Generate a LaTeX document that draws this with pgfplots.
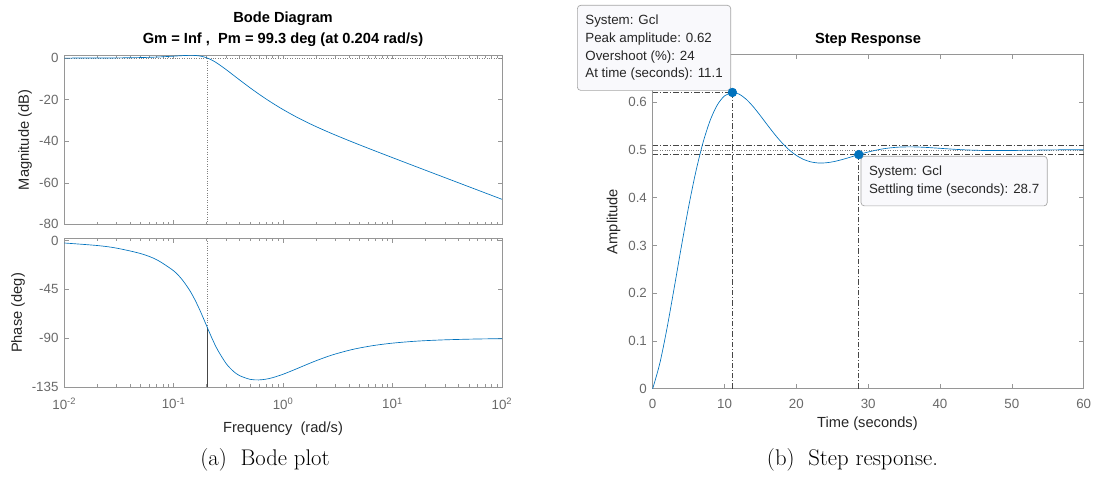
\documentclass[border=0pt]{standalone}
\usepackage{fontspec}
\usepackage{pgfplots}
\pgfplotsset{compat=1.18}
\newfontfamily\arial{Liberation Sans}
\definecolor{mblue}{RGB}{0,114,189}
\definecolor{axgray}{RGB}{150,150,150}
\definecolor{tkgray}{RGB}{105,105,105}
\definecolor{lbl}{RGB}{38,38,38}
\definecolor{dd}{RGB}{70,70,70}

\pgfplotstableread{
w mag
0.01 0.011
0.02 0.045
0.03 0.100
0.05 0.273
0.07 0.515
0.1 0.945
0.12 1.199
0.14 1.333
0.15 1.323
0.16 1.247
0.17 1.096
0.18 0.864
0.19 0.554
0.2 0.170
0.21 -0.278
0.22 -0.778
0.23 -1.319
0.25 -2.476
0.3 -5.438
0.35 -8.141
0.4 -10.495
0.5 -14.322
0.6 -17.298
0.7 -19.692
0.8 -21.672
1 -24.779
1.3 -28.118
1.6 -30.542
2 -32.967
2.5 -35.245
3 -37.024
4 -39.726
5 -41.761
7 -44.769
10 -47.914
15 -51.461
20 -53.969
30 -57.496
50 -61.937
70 -64.860
100 -67.959
}\magtable

\pgfplotstableread{
w ph
0.01 -2.30
0.02 -4.62
0.03 -7.01
0.05 -12.07
0.07 -17.75
0.1 -27.98
0.12 -36.31
0.14 -45.96
0.15 -51.21
0.16 -56.68
0.17 -62.27
0.18 -67.88
0.19 -73.38
0.2 -78.69
0.21 -83.72
0.22 -88.40
0.23 -92.71
0.25 -100.19
0.3 -113.11
0.35 -120.40
0.4 -124.51
0.5 -127.97
0.6 -128.48
0.7 -127.73
0.8 -126.41
1 -123.23
1.3 -118.61
1.6 -114.77
2 -110.80
2.5 -107.20
3 -104.60
4 -101.17
5 -99.02
7 -96.49
10 -94.57
15 -93.05
20 -92.29
30 -91.53
50 -90.92
70 -90.65
100 -90.46
}\phtable

\pgfplotstableread{
t y
0 0
1 0.05346
2 0.12706
3 0.21132
4 0.29799
5 0.38043
6 0.45373
7 0.51466
8 0.56155
9 0.59410
10 0.61304
11 0.61996
11.1 0.6202
12 0.61693
13 0.60628
14 0.59040
15 0.57152
16 0.55161
17 0.53231
18 0.51484
19 0.50005
20 0.48841
21 0.48008
22 0.47493
23 0.47265
24 0.47279
25 0.47482
26 0.47820
27 0.48240
28 0.48694
29 0.49144
30 0.49558
32 0.50202
34 0.50551
36 0.50630
38 0.50523
40 0.50328
42 0.50126
44 0.49969
46 0.49880
48 0.49855
50 0.49875
52 0.49918
54 0.49965
56 0.50003
58 0.50026
60 0.50033
}\steptable

\pgfplotsset{
  mstyle/.style={
    scale only axis,
    axis line style={axgray, line width=0.5pt},
    every tick/.style={axgray, line width=0.4pt},
    tick align=inside,
    major tick length=3.2pt,
    minor tick length=2pt,
    tick label style={font=\arial\fontsize{10}{12}\selectfont, text=tkgray},
    yticklabel style={xshift=-0.8pt},
    /pgf/number format/assume math mode=true,
  },
}
\tikzset{
  dashdot/.style={dd, line width=0.5pt, dash pattern=on 4pt off 1.5pt on 0.8pt off 1.5pt},
  dotl/.style={gray, line width=0.5pt, dash pattern=on 0.6pt off 1.2pt},
  tip/.style={draw={rgb,255:red,165;green,165;blue,165}, fill={rgb,255:red,249;green,249;blue,252},
    rounded corners=2.5pt, inner xsep=6pt, inner ysep=7.3pt, align=left, line width=0.5pt,
    font=\arial\fontsize{10}{13.3}\selectfont, text=lbl},
}

\begin{document}
\begin{tikzpicture}[x=1pt,y=1pt]
\useasboundingbox (0,0) rectangle (825.75,359.25);

% Bode magnitude
\begin{axis}[mstyle, at={(48.2pt,191pt)}, anchor=south west,
  width=328.3pt, height=127pt,
  xmode=log, xmin=0.01, xmax=100, ymin=-80, ymax=1.5,
  xtick={0.01,0.1,1,10,100}, xticklabels={},
  minor xtick={0.02,0.03,0.04,0.05,0.06,0.07,0.08,0.09,0.2,0.3,0.4,0.5,0.6,0.7,0.8,0.9,2,3,4,5,6,7,8,9,20,30,40,50,60,70,80,90},
  ytick={-80,-60,-40,-20,0}, yticklabels={-80,-60,-40,-20,0}]
\addplot[dotl] coordinates {(0.01,0) (100,0)};
\addplot[dotl] coordinates {(0.204,0) (0.204,-80)};
\addplot[mblue, line width=0.5pt, smooth] table[x=w, y=mag] {\magtable};
\end{axis}

% Bode phase
\begin{axis}[mstyle, at={(48.2pt,69pt)}, anchor=south west,
  width=328.3pt, height=111.5pt,
  xmode=log, xmin=0.01, xmax=100, ymin=-135, ymax=2,
  xtick={0.01,0.1,1,10,100},
  xticklabel style={yshift=-4.5pt},
  xticklabels={10\textsuperscript{-2},10\textsuperscript{-1},10\textsuperscript{0},10\textsuperscript{1},10\textsuperscript{2}},
  minor xtick={0.02,0.03,0.04,0.05,0.06,0.07,0.08,0.09,0.2,0.3,0.4,0.5,0.6,0.7,0.8,0.9,2,3,4,5,6,7,8,9,20,30,40,50,60,70,80,90},
  ytick={-135,-90,-45,0}, yticklabels={-135,-90,-45,0}]
\addplot[dotl] coordinates {(0.204,2) (0.204,-80.7)};
\addplot[dd, line width=0.6pt] coordinates {(0.204,-80.7) (0.204,-135)};
\addplot[mblue, line width=0.5pt, smooth] table[x=w, y=ph] {\phtable};
\end{axis}

% Step response
\begin{axis}[mstyle, at={(489.5pt,67.7pt)}, anchor=south west,
  width=323.25pt, height=250.8pt, clip=false,
  xmin=0, xmax=60, ymin=0, ymax=0.7,
  xticklabel style={yshift=-4pt},
  xtick={0,10,20,30,40,50,60}, xticklabels={0,10,20,30,40,50,60},
  ytick={0,0.1,0.2,0.3,0.4,0.5,0.6,0.7}, yticklabels={0,0.1,0.2,0.3,0.4,0.5,0.6,{}}]
\addplot[dotl] coordinates {(0,0.5) (60,0.5)};
\addplot[dashdot] coordinates {(0,0.49) (60,0.49)};
\addplot[dashdot] coordinates {(0,0.51) (60,0.51)};
\addplot[dashdot] coordinates {(0,0.6202) (11.1,0.6202)};
\addplot[dashdot] coordinates {(11.1,0) (11.1,0.6202)};
\addplot[dashdot] coordinates {(28.7,0) (28.7,0.4901)};
\addplot[mblue, line width=0.5pt, smooth] table[x=t, y=y] {\steptable};
\node[tip, anchor=south east] at ([xshift=-1pt,yshift=1.3pt]axis cs:11.1,0.6202)
  {System: Gcl\\Peak amplitude: 0.62\\Overshoot (\%): 24\\At time (seconds): 11.1};
\node[tip, anchor=north west] at ([xshift=1.4pt,yshift=-1pt]axis cs:28.7,0.4901)
  {System: Gcl\\Settling time (seconds): 28.7};
\addplot[only marks, mark=*, mark size=3.3pt, mblue] coordinates {(11.1,0.6202) (28.7,0.4901)};
\end{axis}

% titles and labels
\node[font=\arial\bfseries\fontsize{11}{13}\selectfont, anchor=base] at (212.25,342.2) {Bode Diagram};
\node[font=\arial\bfseries\fontsize{11}{13}\selectfont, anchor=base] at (212.25,326.5) {Gm = Inf ,\ \ Pm = 99.3 deg (at 0.204 rad/s)};
\node[font=\arial\bfseries\fontsize{11}{13}\selectfont, anchor=base] at (651,326.5) {Step Response};
\node[font=\arial\fontsize{11}{13}\selectfont, text=lbl, rotate=90] at (18.75,254.25) {Magnitude (dB)};
\node[font=\arial\fontsize{11}{13}\selectfont, text=lbl, rotate=90] at (13.5,124.5) {Phase (deg)};
\node[font=\arial\fontsize{11}{13}\selectfont, text=lbl, anchor=base] at (212.25,34.7) {Frequency\ \ (rad/s)};
\node[font=\arial\fontsize{11}{13}\selectfont, text=lbl, anchor=base] at (650.6,38.6) {Time (seconds)};
\node[font=\arial\fontsize{11}{13}\selectfont, text=lbl, rotate=90] at (460.1,193.1) {Amplitude};
\node[font=\fontsize{17}{20}\selectfont, anchor=base] at (198.75,9.75) {(a)\ \ Bode plot};
\node[font=\fontsize{17}{20}\selectfont, anchor=base] at (639.4,9.75) {(b)\ \ Step response.};
\end{tikzpicture}
\end{document}
